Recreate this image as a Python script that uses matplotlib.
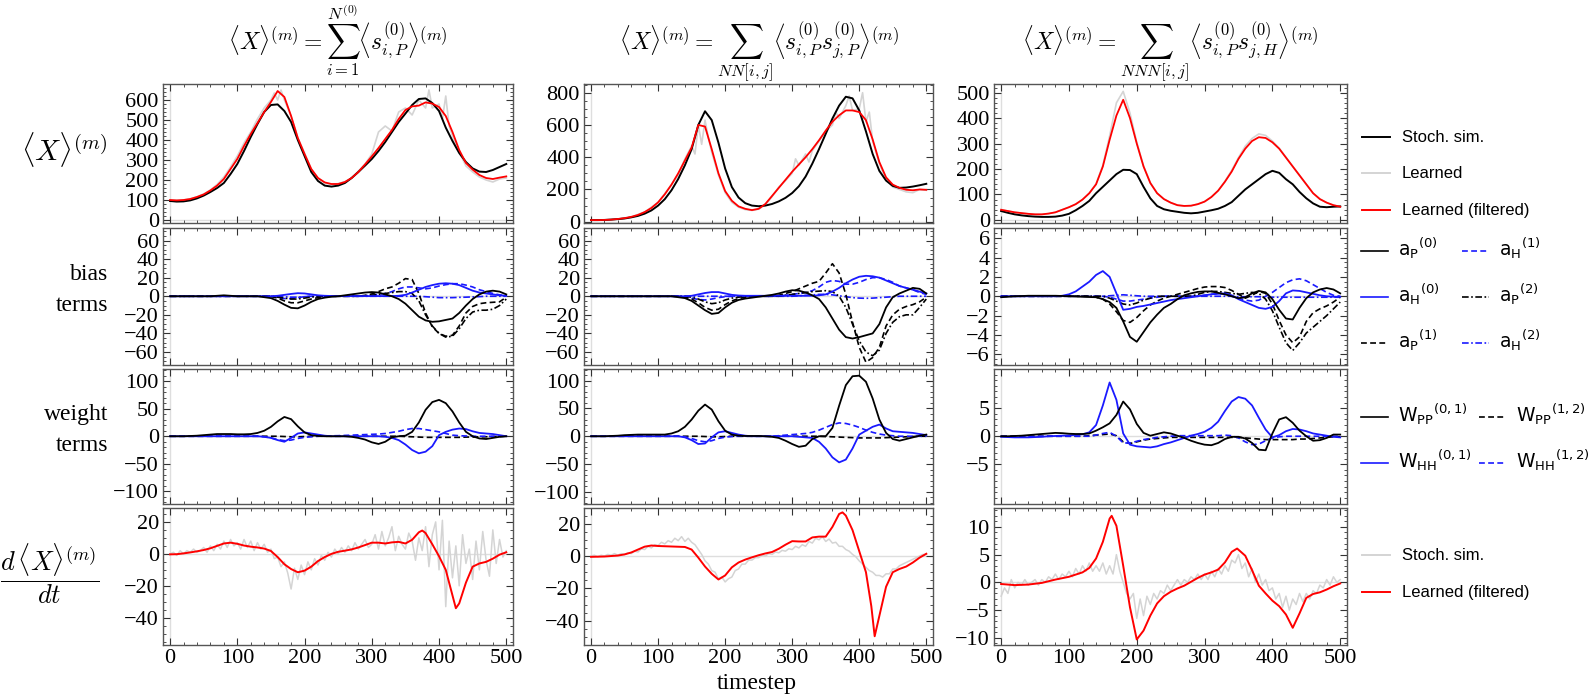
import matplotlib
matplotlib.use('Agg')
import matplotlib.pyplot as plt
from matplotlib.lines import Line2D
from matplotlib.ticker import MultipleLocator, FixedLocator

plt.rcParams['font.family'] = ['Liberation Serif', 'DejaVu Serif']
plt.rcParams['mathtext.fontset'] = 'cm'

# ---------------- data ----------------
T = list(range(0, 501, 10))
T5 = list(range(0, 501, 5))

# row 1: <X>^(m)
x1_sim = [95, 92, 93, 98, 108, 122, 140, 160, 185, 230,
          280, 345, 415, 480, 540, 575, 578, 545, 490, 400,
          320, 240, 195, 172, 167, 172, 185, 210, 240, 272,
          305, 345, 390, 440, 490, 532, 575, 605, 608, 585,
          545, 462, 395, 335, 290, 258, 242, 240, 250, 265,
          280]
x1_filt = [100, 98, 100, 105, 115, 128, 148, 172, 205, 255,
           305, 370, 430, 485, 540, 590, 645, 615, 520, 410,
           330, 255, 210, 188, 180, 180, 190, 210, 240, 278,
           318, 360, 405, 450, 505, 550, 568, 572, 588, 582,
           565, 520, 440, 350, 285, 252, 225, 210, 205, 212,
           218]
t_x1_learn = [0, 10, 20, 30, 40, 50, 60, 70, 80, 90, 100, 110, 120, 130, 140, 150,
              155, 160, 165, 170, 180, 190, 200, 210, 220, 230, 240, 250, 260, 270,
              280, 290, 300, 310, 320, 330, 340, 350, 360, 370, 380, 385, 390,
              400, 405, 410, 415, 420, 430, 440, 450, 460, 470, 480, 490, 500]
x1_learn = [100, 98, 100, 106, 116, 130, 150, 178, 215, 265, 320, 385, 440, 505, 560, 600,
            635, 600, 650, 600, 520, 410, 335, 255, 210, 185, 178, 182, 192, 210,
            245, 280, 330, 440, 470, 445, 540, 560, 525, 600, 560, 650, 560,
            580, 505, 620, 470, 420, 340, 270, 240, 215, 200, 190, 205, 210]

x2_sim = [10, 10, 11, 13, 16, 20, 27, 36, 50, 70,
          100, 140, 195, 265, 350, 450, 600, 685, 630, 490,
          330, 215, 150, 115, 100, 96, 100, 110, 126, 148,
          178, 220, 280, 360, 450, 545, 640, 720, 775, 765,
          690, 560, 420, 315, 255, 222, 210, 212, 218, 226,
          235]
x2_filt = [10, 10, 11, 13, 17, 22, 30, 42, 60, 85,
           120, 170, 230, 300, 380, 460, 600, 590, 450, 300,
           190, 130, 95, 80, 72, 80, 110, 160, 210, 260,
           310, 355, 400, 450, 505, 565, 620, 660, 690, 690,
           680, 630, 510, 370, 275, 230, 210, 198, 195, 200,
           198]
t_x2_learn = [0, 20, 40, 60, 80, 100, 120, 130, 140, 150, 155, 160, 165, 170, 175, 180,
              190, 200, 210, 220, 230, 240, 250, 260, 270, 280, 290, 300, 305, 310,
              320, 325, 330, 340, 350, 360, 365, 370, 380, 385, 390, 400, 405, 410,
              415, 420, 430, 440, 450, 460, 470, 480, 490, 500]
x2_learn = [10, 11, 17, 30, 60, 120, 230, 290, 390, 470, 420, 600, 480, 630, 520, 430,
            290, 180, 120, 90, 75, 70, 78, 105, 155, 215, 255, 300, 390, 350,
            420, 370, 440, 500, 560, 600, 680, 640, 720, 780, 690, 700, 800, 620,
            680, 500, 360, 260, 215, 200, 185, 180, 200, 195]

x3_sim = [35, 28, 22, 18, 15, 13, 12, 12, 13, 17,
          24, 38, 55, 75, 105, 130, 155, 180, 197, 196,
          180, 130, 85, 55, 42, 36, 32, 28, 26, 28,
          33, 38, 44, 55, 70, 95, 120, 140, 160, 180,
          193, 185, 160, 140, 110, 85, 65, 52, 50, 52,
          53]
x3_filt = [40, 35, 30, 27, 24, 22, 22, 25, 30, 40,
           50, 62, 80, 105, 140, 210, 315, 410, 472, 400,
           300, 210, 145, 105, 82, 68, 58, 55, 56, 62,
           72, 90, 115, 150, 190, 240, 280, 310, 325, 322,
           305, 280, 245, 210, 175, 140, 105, 82, 68, 58,
           52]
x3_learn = [40, 35, 30, 27, 24, 22, 22, 25, 30, 40,
            50, 62, 80, 105, 142, 215, 330, 460, 505, 420,
            305, 212, 146, 105, 82, 68, 58, 55, 56, 62,
            72, 90, 115, 152, 195, 245, 290, 320, 338, 332,
            310, 282, 246, 210, 175, 140, 105, 82, 68, 58,
            52]

# row 2: bias terms
aP0_1 = [0, 0, 0, 0, 0, 0, 0, 0.5, 1, 0.5,
         0, 0, 0, 0, -1, -2, -5, -9, -12.5, -13,
         -10, -6, -3, -1.5, -0.5, 0, 1, 2, 3, 4,
         4.5, 4, 2, 0, -3, -8, -15, -22, -26, -27.5,
         -27, -25.5, -24, -18, -10, -3, 2, 5, 6, 5,
         2]
aH0_1 = [0, 0, 0, 0, 0, 0, 0, 0, 0, 0,
         0, 0, 0, 0, 0, 0, 0.5, 1.5, 2.5, 3.3,
         3, 2, 1, 0.5, 0.3, 0.2, 0.2, 0.2, 0.2, 0.2,
         0.2, 0.2, 0.2, 0.2, 0.5, 1.5, 4, 7, 10, 12,
         13.5, 14, 13.5, 12, 9, 6, 4, 3, 2, 1,
         0.5]
aP1_1 = [0, 0, 0, 0, 0, 0, 0, 0, 0, 0,
         0, 0, 0, 0, 0, 0, -2, -5, -7, -7,
         -5, -3, -1.5, -0.5, 0, 0, 0, 0, 0, 1,
         2.5, 5, 8, 10, 14, 19, 18, 3, -18, -33,
         -40, -43, -42, -32, -18, -11, -8, -7, -6.5, -6,
         -1]
aP2_1 = [0, 0, 0, 0, 0, 0, 0, 0, 0, 0,
         0, 0, 0, 0, 0, 0, -1, -2, -3, -3,
         -2, -1, 0, 0, 0, 0, 0, 0, 0, 0.5,
         1, 2, 3, 4, 5, 5, 3, -5, -20, -32,
         -40, -44, -43, -35, -24, -17, -15, -15, -14, -10,
         -3]
aH1_1 = [0, 0, 0, 0, 0, 0, 0, 0, 0, 0,
         0, 0, 0, 0, 0, -0.5, -1.5, -2.5, -2.5, -1.5,
         -0.5, 0, 0, 0, 0, 0, 0, 0, 0, 0.5,
         1, 2, 3, 5, 8, 10, 10, 9, 8, 9,
         11, 12.5, 13.5, 13.5, 12, 10, 7, 5, 3, 1.5,
         0.5]
aH2_1 = [0, 0, 0, 0, 0, 0, 0, 0, 0, 0,
         0, 0, 0, 0, 0, 0, 0, -0.5, -1, -1,
         -0.5, 0, 0, 0, 0, 0, 0, 0, 0, 0,
         0, 0, 0, 0, 0, 0, 0, 0, -0.5, -1,
         -1.5, -1.5, -1.5, -1.2, -1, -0.7, -0.4, 0, 0, 0,
         0]

aP0_2 = [0, 0, 0, 0, 0, 0, 0, 0, 0, 0,
         0, 0, 0, -1, -2, -5, -10, -15, -19, -18,
         -12, -7, -4, -2.5, -1.5, -0.5, 0.5, 1.5, 3, 5,
         6.5, 6, 4, 1, -3, -12, -24, -36, -44, -45.5,
         -44, -42, -40, -30, -12, -1, 3, 6, 9, 8,
         3]
aH0_2 = [0, 0, 0, 0, 0, 0, 0, 0, 0, 0,
         0, 0, 0, 0, 0, 0.5, 2, 3.5, 4.5, 4.5,
         3, 1.5, 0.8, 0.5, 0.5, 0.5, 0.5, 0.5, 0.5, 0.5,
         0.5, 0.5, 0.5, 0.5, 1, 2, 5, 9, 14, 18,
         21, 22, 21.5, 20, 17, 14, 11, 9, 7, 5,
         3]
aP1_2 = [0, 0, 0, 0, 0, 0, 0, 0, 0, 0,
         0, 0, 0, 0, -1, -3, -7, -12, -15, -14,
         -9, -5, -2.5, -1, 0, 0, 0, 0, 1, 3,
         5, 8, 11, 14, 16, 25, 35, 25, 2, -28,
         -55, -71, -66, -55, -32, -20, -14, -11, -9, -6,
         -1]
aP2_2 = [0, 0, 0, 0, 0, 0, 0, 0, 0, 0,
         0, 0, 0, 0, 0, -1, -3, -6, -8, -7,
         -4, -2, -1, 0, 0, 0, 0, 0, 0, 1,
         2, 3, 4, 5, 5.5, 6, 5, 0, -12, -30,
         -48, -60, -64, -58, -40, -28, -22, -20, -20, -12,
         -3]
aH1_2 = [0, 0, 0, 0, 0, 0, 0, 0, 0, 0,
         0, 0, 0, 0, -1, -2, -3.5, -4, -3, -1.5,
         -0.5, 0, 0, 0, 0, 0, 0, 0, 0.5, 1,
         2, 3, 4, 6, 10, 15, 17, 16, 13, 13,
         15, 18, 20, 20, 18, 15, 11, 9, 7, 4,
         2]
aH2_2 = [0, 0, 0, 0, 0, 0, 0, 0, 0, 0,
         0, 0, 0, 0, 0, 0, 0, 0, 0, 0,
         0, 0, 0, 0, 0, 0, 0, 0, 0, 0,
         0, 0.5, 1, 1.5, 2, 2, 1.5, 0.5, -0.5, -1.5,
         -2, -2.2, -2, -1.5, -1, -0.5, 0, 0, 0, 0,
         0]

aP0_3 = [-0.1, -0.05, 0, 0.02, 0.05, 0.05, 0.05, 0.05, 0.05, 0.03,
         0, -0.02, -0.05, -0.08, -0.1, -0.3, -0.6, -1.2, -2.6, -4.2,
         -4.7, -3.7, -2.7, -1.9, -1.2, -0.8, -0.3, 0.1, 0.3, 0.45,
         0.5, 0.5, 0.35, 0.2, 0, -0.2, -0.1, 0.3, 0.55, 0.4,
         -0.3, -1.4, -2.3, -2.4, -1.2, -0.2, 0.4, 0.7, 0.85, 0.7,
         0.3]
aH0_3 = [0, 0, 0, 0, 0, 0, 0, 0, 0, 0.05,
         0.2, 0.5, 1.0, 1.5, 2.2, 2.6, 2.0, 0.3, -1.4, -1.3,
         -1.1, -1.0, -0.85, -0.7, -0.55, -0.4, -0.3, -0.2, -0.1, 0,
         0.1, 0.2, 0.25, 0.3, 0.1, -0.3, -0.6, -0.9, -1.2, -1.3,
         -1.1, -0.5, 0.3, 0.6, 0.55, 0.4, 0.25, 0.1, 0, -0.05,
         -0.05]
aP1_3 = [0, 0, 0, 0, 0, 0, 0, 0, 0, 0,
         0, 0, 0, 0, -0.1, -0.3, -0.8, -1.6, -2.5, -2.7,
         -2.2, -1.5, -0.9, -0.5, -0.2, 0, 0.2, 0.4, 0.6, 0.8,
         0.95, 1.0, 1.0, 0.9, 0.6, 0.2, -0.2, 0.1, 0.5, 0.3,
         -0.8, -2.5, -4.0, -4.8, -4.2, -2.6, -1.7, -1.3, -1.0, -0.6,
         -0.1]
aP2_3 = [0, 0, 0, 0, 0, 0, 0, 0, 0, 0,
         0, 0, 0, 0, 0, 0, -0.2, -0.5, -0.8, -0.9,
         -0.7, -0.4, -0.2, 0, 0, 0, 0, 0, 0, 0.2,
         0.4, 0.5, 0.5, 0.4, 0.3, 0.2, 0.3, 0.4, 0.3, -0.3,
         -1.5, -3.2, -4.8, -5.6, -4.8, -3.8, -3.2, -2.6, -2.0, -1.3,
         -0.6]
aH1_3 = [0, 0, 0, 0, 0, 0, 0, 0, 0, 0,
         0, 0, 0, 0, 0, 0, -0.1, -0.3, -0.5, -0.5,
         -0.4, -0.3, -0.2, -0.1, 0, 0, 0, 0, 0, 0,
         0.1, 0.2, 0.3, 0.2, 0, -0.2, -0.4, -0.5, -0.4, 0,
         0.4, 0.9, 1.4, 1.7, 1.8, 1.6, 1.2, 0.8, 0.4, 0.1,
         0]
aH2_3 = [0, 0, 0, 0, 0, 0, 0, 0, 0, 0,
         0, 0, 0, 0, 0, 0, 0.05, 0.1, 0.15, 0.1,
         0.05, 0, 0, 0, 0, 0, 0, 0, 0, 0,
         0, 0, 0, 0, 0, -0.05, -0.05, -0.05, -0.05, -0.1,
         -0.1, -0.1, -0.1, -0.1, -0.1, -0.1, -0.1, -0.1, -0.1, -0.1,
         -0.1]

# row 3: weight terms
wPP01_1 = [0, 0, 0, 0.5, 1, 2, 3, 4, 4, 4,
           3.5, 3.5, 4, 6, 10, 17, 27, 35, 31, 18,
           7, 2, 0.5, 0, 0, 0, 0, -1, -3, -6,
           -11, -14, -10, -2, 0, 1, 8, 25, 48, 62,
           66, 60, 45, 25, 8, 0, -4, -5, -3, -1,
           0]
wHH01_1 = [0, 0, 0, 0, 0, 0, 0, 0, 0, 0,
           0, 0, 0, 0, -1, -3, -7, -10, -3, 5,
           7, 5, 3, 1, 0, 0, 0, 0, 0, 0,
           0, 0, -1, -3, -7, -15, -25, -31, -28, -18,
           2, 8, 12, 14, 13, 9, 6, 5, 4, 2,
           0]
wPP12_1 = [0, 0, 0, 0, 0, 0, 0, 0, 0, 0,
           0, 0, 0, 0, 0, 0, 0, -0.5, -1, -1,
           -0.5, 0, 0, 0, 0, 0, 0, 0, 0, 0,
           0, 0, 0, 0, 0, -0.5, -1, -1.5, -2, -2,
           -2, -2, -2, -2, -1.5, -1.5, -1, -1, -0.5, -0.5,
           0]
wHH12_1 = [0, 0, 0, 0, 0, 0, 0, 0, 0, 0,
           0, 0, 0, 0, -1, -3, -6, -8, -7, -4,
           -2, -1, 0, 0.5, 0.8, 1, 1.5, 2, 2.5, 3,
           3.5, 4, 5, 7, 9, 12, 14, 14, 12, 10,
           8, 5, 2, 1, 0.5, 0, 0, 0, 0, 0,
           0]

wPP01_2 = [0, 0, 0, 0.5, 1, 2, 2.5, 3, 3, 3,
           3, 3, 5, 9, 17, 30, 46, 57, 48, 27,
           10, 3, 1, 0.5, 0.5, 0.5, 0, -1, -3, -8,
           -14, -19, -17, -5, 0, 0, 15, 55, 92, 108,
           109, 98, 68, 30, 6, -5, -8, -5, -2, 1,
           3]
wHH01_2 = [0, 0, 0, 0, 0, 0, 0, 0, 0, 0,
           0, 0, 0, 0, -2, -7, -14, -13, -2, 7,
           9, 6, 3, 1, 0, 0, 0, 0, 0, 0,
           0, -1, -2, -3, -10, -22, -38, -47, -42, -22,
           3, 10, 17, 21, 14, 9, 8, 7, 6, 4,
           2]
wPP12_2 = [0, 0, 0, 0, 0, 0, 0, 0, 0, 0,
           0, 0, 0, 0, 0, 0, 0, -0.5, -1, -1,
           -0.5, 0, 0, 0, 0, 0, 0, 0, 0, 0,
           0, 0, 0, 0, 0, -0.5, -1, -1.5, -2, -2.5,
           -3, -3, -3, -3, -2.5, -2, -1.5, -1, -0.5, 0,
           0]
wHH12_2 = [0, 0, 0, 0, 0, 0, 0, 0, 0, 0,
           0, 0, 0, 0, -1, -4, -8, -10, -8, -4,
           -1.5, -0.5, 0, 0, 0, 0, 0, 0, 1, 2,
           3, 4, 5, 7, 11, 16, 21, 24, 23, 20,
           16, 11, 7, 4, 2, 1, 0, 0, 0, 0,
           0]

wPP01_3 = [0, 0, 0.05, 0.1, 0.2, 0.3, 0.4, 0.5, 0.6, 0.55,
           0.45, 0.4, 0.4, 0.5, 1.0, 1.6, 2.3, 3.8, 6.2, 4.8,
           2.2, 0.6, 0.1, 0.4, 0.7, 0.5, 0.1, -0.3, -0.8, -1.2,
           -1.5, -1.6, -1.2, -0.5, -0.1, -0.1, -0.4, -1.2, -2.4, -2.5,
           0.5, 3.0, 3.4, 2.4, 1.0, 0, -0.8, -0.7, -0.3, 0.3,
           0.3]
wHH01_3 = [-0.1, -0.15, -0.2, -0.2, -0.2, -0.15, -0.1, 0, 0.05, 0.1,
           0.15, 0.25, 0.35, 0.7, 2.0, 5.5, 9.6, 6.5, 0.5, -1.5,
           -1.8, -1.9, -2.0, -1.8, -1.4, -1.1, -0.7, -0.3, 0.1, 0.4,
           0.8, 1.5, 2.6, 4.5, 6.2, 7.0, 6.7, 5.5, 3.3, 1.2,
           -0.2, 0.2, 0.9, 1.3, 1.2, 0.9, 0.5, 0.3, 0.1, -0.1,
           -0.2]
wPP12_3 = [0, 0, 0, 0, 0, 0, 0, 0, 0, 0,
           0, 0, 0, 0.1, 0.2, 0.3, 0.4, 0.1, -1.0, -1.3,
           -1.0, -0.7, -0.5, -0.4, -0.3, -0.2, -0.2, -0.2, -0.2, -0.2,
           -0.2, -0.2, -0.2, -0.2, -0.2, -0.2, -0.3, -0.4, -0.5, -0.6,
           -0.6, -0.6, -0.6, -0.6, -0.5, -0.5, -0.4, -0.3, -0.2, -0.1,
           -0.1]
wHH12_3 = [0, 0, 0, 0, 0, 0, 0, 0, 0, 0,
           0, 0, 0, 0, 0.2, 0.5, 0.7, 0, -1.2, -1.2,
           -0.9, -0.6, -0.4, -0.2, -0.1, 0, 0.1, 0.1, 0.1, 0.1,
           0.1, 0.1, 0.1, 0.2, 0.1, -0.3, -1.0, -1.5, -1.4, -0.8,
           -0.3, -0.1, 0, 0, 0, 0, 0, 0, 0, 0,
           0]

# row 4: d<X>/dt
t_d1 = [0, 10, 20, 30, 40, 50, 60, 70, 80, 90, 100, 110, 120, 130, 140, 150, 160, 170,
        180, 190, 200, 210, 220, 230, 240, 250, 260, 270, 280, 290, 300, 310, 320, 330,
        340, 350, 360, 370, 375, 380, 390, 400, 410, 420, 425, 430, 440, 450, 460, 470,
        480, 490, 500]
d1_filt = [-0.3, -0.2, 0.3, 0.9, 1.6, 2.4, 3.5, 5.0, 6.5, 7.0, 6.3, 5.2, 4.5, 4.0, 3.3, 1.8,
           -2.0, -6.5, -9.5, -11.5, -10.5, -8, -4.5, -2, 0, 1.3, 2.0, 2.8, 4.0, 5.5, 7.0,
           7.0, 6.5, 7.2, 7.5, 6.5, 8.8, 13.5, 14.6, 13, 6, -1.5, -10, -26, -34, -31, -18,
           -8, -6, -5, -3, -0.5, 1]
d1_sim = [0, 1, -1, 2, 0, 2, 1, 3, 1, 2,
          4, 1, 5, 2, 6, 3, 8, 4, 9, 5,
          7, 3, 9, 4, 8, 2, 7, 3, 6, 1,
          3, -3, -2, -8, -5, -12, -22, -9, -16, -7,
          -13, -5, -10, -3, -7, -1, -4, 1, -2, 3,
          0, 4, 1, 5, 2, 7, 3, 6, 9, 4,
          6, 12, 3, 14, 5, 10, 17, 2, 11, 6,
          3, 13, 8, -4, 10, 2, 17, -8, 12, 20,
          -10, 21, -33, 8, -15, 5, -20, 12, -6, 3,
          -16, 8, -10, 14, -4, -14, 15, -6, 9, -2,
          2]

t_d2 = [0, 20, 40, 50, 60, 70, 80, 90, 100, 120, 140, 150, 160, 170, 180, 190, 200, 210,
        220, 230, 240, 250, 260, 270, 280, 290, 300, 310, 320, 330, 340, 350, 360, 370,
        375, 380, 390, 400, 410, 418, 423, 430, 440, 450, 460, 470, 480, 490, 500]
d2_filt = [-0.5, -0.3, 0.3, 1.0, 2.2, 4.0, 5.8, 6.5, 6.2, 5.9, 5.6, 4.0, -1, -6.5, -11,
           -14.5, -12, -7, -4, -2.2, -0.8, 0.5, 1.6, 2.5, 4.5, 7.0, 9.2, 9.0, 9.0, 11.5,
           12.0, 12.0, 18, 26, 27, 25, 16, 3, -10, -31, -49.6, -37, -19, -10, -8, -6.5,
           -4, -1, 1.4]
d2_sim = [0, 0.5, -0.5, 0.5, 0, 1, 0.5, 1.5, 0.5, 1.5,
          1, 2, 1.5, 3, 2.5, 4.5, 4, 6, 5, 7,
          6.5, 8.5, 7.5, 9.5, 8.5, 11, 9.5, 12, 9, 11,
          8.5, 7, 4, 1, -3, -5, -9, -10, -14, -13,
          -16, -14, -13, -9, -8, -5, -5, -2.5, -2.5, -1,
          -1, 0.5, 0, 1.5, 1, 2.5, 2, 3.5, 3, 4.5,
          4, 6, 5, 7, 6, 9, 8, 11, 10, 12,
          9, 10.5, 8, 8.5, 6, 6, 4, 3, 1, -0.5,
          -3, -5, -7, -9, -10, -12, -12, -13, -11, -11,
          -8, -8, -6, -5, -4, -3, -2, -1, 0, 1,
          1]

t_d3 = [0, 20, 40, 60, 80, 100, 120, 130, 140, 150, 160, 163, 170, 180, 190, 200, 210,
        220, 230, 240, 250, 260, 270, 280, 290, 300, 310, 320, 330, 340, 348, 360, 370,
        380, 390, 400, 410, 420, 430, 440, 450, 460, 470, 480, 490, 500]
d3_filt = [-0.3, -0.5, -0.4, -0.1, 0.5, 1.0, 1.8, 2.6, 4.3, 7.3, 11.5, 12.0, 10.2, 3,
           -4.5, -10.3, -8.7, -6, -3.8, -2.5, -1.7, -1.1, -0.6, 0.1, 0.8, 1.4, 1.8, 2.3,
           3.6, 5.5, 6.1, 4.8, 2.2, -0.6, -2.0, -3.3, -4.3, -5.8, -8.2, -5.6, -2.8, -2.1,
           -1.8, -1.3, -0.7, -0.2]
d3_sim = [-2.5, -1, -2, 0.5, -1, 0, -0.5, 0.5, -0.5, 0,
          0.5, -0.5, 0.5, 0, 1, 0.5, 1.5, 0.5, 1.5, 1,
          2, 1, 2.5, 1.5, 3, 2, 3.5, 2, 3, 2,
          3.5, 1.5, 3, 1.5, 5, 2, 0, -2, -3, -2,
          -6.5, -3, -6, -2.5, -4, -2, -3, -1.5, -2, -0.5,
          -1.5, -0.5, 0.5, -0.5, 0.5, 0, 1, 0.5, 1.5, 0.5,
          1.5, 0.5, 2, 1, 2.5, 1.5, 3, 2, 4, 3.5,
          5, 2.5, 3.5, 1, 2.5, 0, 1.5, -0.5, 0.5, -1.5,
          -1, -3, -2, -4.5, -2.5, -5, -3, -4, -2, -3.5,
          -2, -3, -1.5, -2, -0.5, -1, 0.5, -0.5, 1, 0,
          0.5]

# ---------------- layout ----------------
W, H = 1593, 697
fig = plt.figure(figsize=(W / 100, H / 100), dpi=100)

col_x = [(163, 513), (584, 933), (994, 1347)]
row_y = [(84, 223), (227.5, 365), (369, 503.5), (507.5, 645)]

BLUE = '#1a1aff'
RED = '#ff0000'
GRAY = '#d4d4d4'
DASH = (0, (3.5, 2))
DASHDOT = (0, (4, 1.5, 1, 1.5))

ylims = [[(-15, 680), (-8, 854), (-12, 534)],
         [(-74, 74), (-74, 74), (-7.1, 7.1)],
         [(-122, 122), (-121, 121), (-12, 12)],
         [(-57, 29), (-55, 30), (-11.3, 13.5)]]
yticks = [[range(0, 601, 100), range(0, 801, 200), range(0, 501, 100)],
          [range(-60, 61, 20), range(-60, 61, 20), range(-6, 7, 2)],
          [range(-100, 101, 50), range(-100, 101, 50), [-5, 0, 5]],
          [range(-40, 21, 20), range(-40, 21, 20), range(-10, 11, 5)]]
yminor = [[20, 50, 20], [5, 5, 0.5], [10, 10, 1], [5, 5, 1]]


def make_ax(r, c):
    x0, x1 = col_x[c]
    y0, y1 = row_y[r]
    ax = fig.add_axes([x0 / W, 1 - y1 / H, (x1 - x0) / W, (y1 - y0) / H])
    ax.set_xlim(-10.5, 510)
    ax.set_ylim(*ylims[r][c])
    ax.xaxis.set_major_locator(MultipleLocator(100))
    ax.xaxis.set_minor_locator(MultipleLocator(20))
    ax.yaxis.set_major_locator(FixedLocator(list(yticks[r][c])))
    ax.yaxis.set_minor_locator(MultipleLocator(yminor[r][c]))
    ax.tick_params(which='both', direction='in', top=True, right=True,
                   labelsize=16, color='#333333', pad=3)
    ax.tick_params(which='major', length=5, width=0.8)
    ax.tick_params(which='minor', length=2.5, width=0.6)
    if r < 3:
        ax.tick_params(labelbottom=False)
    for s in ax.spines.values():
        s.set_color('#555555')
        s.set_linewidth(1.0)
    ax.axhline(0, color='#dedede', lw=1, zorder=0)
    ax.axvline(0, color='#dedede', lw=1, zorder=0)
    return ax


# row 1
row1 = [(t_x1_learn, x1_learn, x1_sim, x1_filt),
        (t_x2_learn, x2_learn, x2_sim, x2_filt),
        (T, x3_learn, x3_sim, x3_filt)]
for c, (tl, learn, sim, filt) in enumerate(row1):
    ax = make_ax(0, c)
    ax.plot(tl, learn, color=GRAY, lw=1.2)
    ax.plot(T, sim, color='black', lw=1.4)
    ax.plot(T, filt, color=RED, lw=1.3)

# row 2
row2 = [(aP0_1, aH0_1, aP1_1, aP2_1, aH1_1, aH2_1),
        (aP0_2, aH0_2, aP1_2, aP2_2, aH1_2, aH2_2),
        (aP0_3, aH0_3, aP1_3, aP2_3, aH1_3, aH2_3)]
for c, (p0, h0, p1, p2, h1, h2) in enumerate(row2):
    ax = make_ax(1, c)
    ax.plot(T, h2, color=BLUE, lw=1.2, ls=DASHDOT)
    ax.plot(T, h1, color=BLUE, lw=1.2, ls=DASH)
    ax.plot(T, p2, color='black', lw=1.2, ls=DASHDOT)
    ax.plot(T, p1, color='black', lw=1.2, ls=DASH)
    ax.plot(T, h0, color=BLUE, lw=1.3)
    ax.plot(T, p0, color='black', lw=1.3)

# row 3
row3 = [(wPP01_1, wHH01_1, wPP12_1, wHH12_1),
        (wPP01_2, wHH01_2, wPP12_2, wHH12_2),
        (wPP01_3, wHH01_3, wPP12_3, wHH12_3)]
for c, (pp01, hh01, pp12, hh12) in enumerate(row3):
    ax = make_ax(2, c)
    ax.plot(T, pp12, color='black', lw=1.2, ls=DASH)
    ax.plot(T, hh12, color=BLUE, lw=1.2, ls=DASH)
    ax.plot(T, hh01, color=BLUE, lw=1.3)
    ax.plot(T, pp01, color='black', lw=1.3)

# row 4
row4 = [(d1_sim, t_d1, d1_filt), (d2_sim, t_d2, d2_filt), (d3_sim, t_d3, d3_filt)]
for c, (sim, tf, filt) in enumerate(row4):
    ax = make_ax(3, c)
    ax.plot(T5, sim, color=GRAY, lw=1.1)
    ax.plot(tf, filt, color=RED, lw=1.4)

# column titles (shared baseline)
titles = [r'$\langle X\rangle^{(m)} = \sum_{i=1}^{N^{(0)}} \left\langle s_{i,P}^{(0)} \right\rangle^{(m)}$',
          r'$\langle X\rangle^{(m)} = \sum_{NN[i,j]} \left\langle s_{i,P}^{(0)} s_{j,P}^{(0)} \right\rangle^{(m)}$',
          r'$\langle X\rangle^{(m)} = \sum_{NNN[i,j]} \left\langle s_{i,P}^{(0)} s_{j,H}^{(0)} \right\rangle^{(m)}$']
for c, title in enumerate(titles):
    xc = (col_x[c][0] + col_x[c][1]) / 2
    fig.text(xc / W, 1 - 50 / H, title, fontsize=17, ha='center', va='baseline')

# row labels
fig.text(64 / W, 1 - 150 / H, r'$\langle X\rangle^{(m)}$', fontsize=21, ha='center', va='center')
fig.text(108 / W, 1 - 290 / H, 'bias\nterms', fontsize=17, ha='right', va='center',
         multialignment='right', linespacing=1.6)
fig.text(108 / W, 1 - 430 / H, 'weight\nterms', fontsize=17, ha='right', va='center',
         multialignment='right', linespacing=1.6)
fig.text(50 / W, 1 - 574 / H, r'$\dfrac{d\,\langle X\rangle^{(m)}}{dt}$', fontsize=19,
         ha='center', va='center')
fig.text(757 / W, 1 - 683 / H, 'timestep', fontsize=17, ha='center', va='center')


# legends
def key(x0, x1, y, **kw):
    fig.add_artist(Line2D([x0 / W, x1 / W], [1 - y / H, 1 - y / H],
                          transform=fig.transFigure, **kw))


def label(x, y, s, size=12):
    fig.text(x / W, 1 - y / H, s, fontsize=size, ha='left', va='center',
             family=['Liberation Sans', 'DejaVu Sans'], math_fontfamily='dejavusans')


for y, col, txt in [(137, 'black', 'Stoch. sim.'), (173, GRAY, 'Learned'),
                    (210, RED, 'Learned (filtered)')]:
    key(1362, 1390, y, color=col, lw=1.4)
    label(1402, y, txt)

bias_keys = [(1361, 251, 'black', '-', r'${\mathrm{a}_{\mathrm{P}}}^{(0)}$'),
             (1361, 297, BLUE, '-', r'${\mathrm{a}_{\mathrm{H}}}^{(0)}$'),
             (1361, 343, 'black', DASH, r'${\mathrm{a}_{\mathrm{P}}}^{(1)}$'),
             (1462, 251, BLUE, DASH, r'${\mathrm{a}_{\mathrm{H}}}^{(1)}$'),
             (1462, 297, 'black', DASHDOT, r'${\mathrm{a}_{\mathrm{P}}}^{(2)}$'),
             (1462, 343, BLUE, DASHDOT, r'${\mathrm{a}_{\mathrm{H}}}^{(2)}$')]
for x, y, col, ls, txt in bias_keys:
    key(x, x + 27, y, color=col, lw=1.2, ls=ls)
    label(x + 37, y - 3, txt, 13.5)

weight_keys = [(1361, 417, 'black', '-', r'${\mathrm{W}_{\mathrm{PP}}}^{(0,1)}$'),
               (1361, 463, BLUE, '-', r'${\mathrm{W}_{\mathrm{HH}}}^{(0,1)}$'),
               (1479, 417, 'black', DASH, r'${\mathrm{W}_{\mathrm{PP}}}^{(1,2)}$'),
               (1479, 463, BLUE, DASH, r'${\mathrm{W}_{\mathrm{HH}}}^{(1,2)}$')]
for x, y, col, ls, txt in weight_keys:
    key(x, x + 27, y, color=col, lw=1.2, ls=ls)
    label(x + 37, y - 3, txt, 13.5)

for y, col, txt in [(555, GRAY, 'Stoch. sim.'), (592, RED, 'Learned (filtered)')]:
    key(1362, 1390, y, color=col, lw=1.4)
    label(1402, y, txt)

fig.savefig('out.png', dpi=100)
